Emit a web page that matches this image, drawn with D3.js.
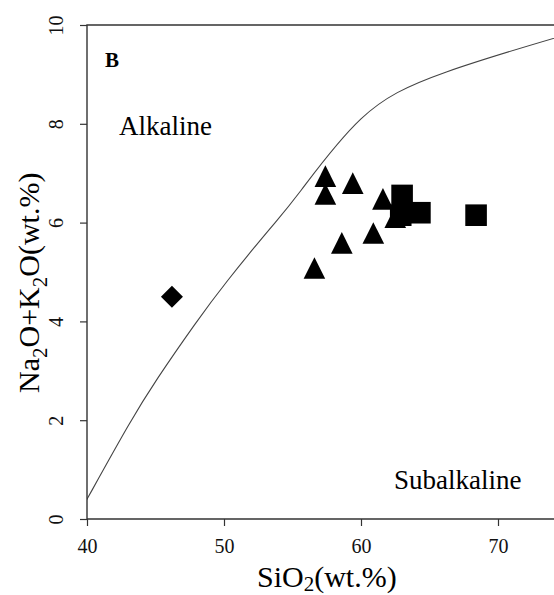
<!DOCTYPE html>
<html>
<head>
<meta charset="utf-8">
<script src="https://cdn.jsdelivr.net/npm/d3@7"></script>
<style>
body { margin: 0; background: #fff; }
svg, svg text { font-family: "Liberation Serif", "DejaVu Serif", "Times New Roman", serif; }
svg { display: block; }
</style>
</head>
<body>
<script>
var width = 554, height = 595;

// Irvine & Baragar alkaline / subalkaline boundary
var boundarySiO2 = [39.2, 40, 43.2, 45, 48, 50, 53.7, 55, 60, 65, 77.4];
var boundaryAlk  = [0, 0.4, 2, 2.8, 4, 4.75, 6, 6.4, 8.3, 9, 10];

// samples
var triSiO2 = [57.4, 57.4, 59.4, 61.6, 62.5, 60.9, 58.6, 56.6];
var triAlk  = [6.94, 6.58, 6.8, 6.48, 6.11, 5.79, 5.59, 5.08];
var sqSiO2  = [63.0, 62.9, 64.3, 68.4];
var sqAlk   = [6.55, 6.15, 6.2, 6.15];
var diaSiO2 = [46.2];
var diaAlk  = [4.5];

var xTicks = [40, 50, 60, 70];
var yTicks = [0, 2, 4, 6, 8, 10];

var serif = "'Liberation Serif', 'DejaVu Serif', serif";

var x = d3.scaleLinear().domain([40, 75]).range([87, 566.5]);
var y = d3.scaleLinear().domain([0, 10]).range([519, 25]);

var svg = d3.select("body").append("svg")
    .attr("width", width)
    .attr("height", height);

svg.append("defs").append("clipPath").attr("id", "plotclip")
  .append("rect")
    .attr("x", x(40)).attr("y", y(10))
    .attr("width", width - x(40)).attr("height", y(0) - y(10));

// boundary curve
var line = d3.line()
    .x(function(d) { return x(d[0]); })
    .y(function(d) { return y(d[1]); })
    .curve(d3.curveBasis);

svg.append("path")
    .datum(d3.zip(boundarySiO2, boundaryAlk))
    .attr("clip-path", "url(#plotclip)")
    .attr("d", line)
    .attr("fill", "none")
    .attr("stroke", "#444")
    .attr("stroke-width", 1.1);

// markers
var s = 10.8;
function triPath(d) {
  var cx = x(d[0]), cy = y(d[1]);
  return "M" + cx + "," + (cy - s) + "L" + (cx + s) + "," + (cy + s) + "L" + (cx - s) + "," + (cy + s) + "Z";
}
function sqPath(d) {
  var cx = x(d[0]), cy = y(d[1]);
  return "M" + (cx - s) + "," + (cy - s) + "h" + 2 * s + "v" + 2 * s + "h" + (-2 * s) + "Z";
}
function diaPath(d) {
  var cx = x(d[0]), cy = y(d[1]), r = 11;
  return "M" + cx + "," + (cy - r) + "L" + (cx + r) + "," + cy + "L" + cx + "," + (cy + r) + "L" + (cx - r) + "," + cy + "Z";
}

svg.append("g").selectAll("path")
    .data(d3.zip(diaSiO2, diaAlk)).enter().append("path")
    .attr("d", diaPath).attr("fill", "#000");
svg.append("g").selectAll("path")
    .data(d3.zip(triSiO2, triAlk)).enter().append("path")
    .attr("d", triPath).attr("fill", "#000");
svg.append("g").selectAll("path")
    .data(d3.zip(sqSiO2, sqAlk)).enter().append("path")
    .attr("d", sqPath).attr("fill", "#000");

// axes
var xAxis = svg.append("g")
    .attr("transform", "translate(0," + y(0) + ")")
    .call(d3.axisBottom(x).tickValues(xTicks).tickSize(7).tickSizeOuter(0));
xAxis.attr("font-family", serif).attr("font-size", 20);
xAxis.select(".domain").remove();
xAxis.selectAll("text")
    .attr("y", 34).attr("dy", 0)
    .attr("fill", "#111");

var yAxis = svg.append("g")
    .attr("transform", "translate(" + x(40) + ",0)")
    .call(d3.axisLeft(y).tickValues(yTicks).tickSize(7).tickSizeOuter(0));
yAxis.attr("font-family", serif).attr("font-size", 20);
yAxis.select(".domain").remove();
yAxis.selectAll("text")
    .attr("transform", "rotate(-90)")
    .attr("x", 0).attr("y", -24).attr("dy", 0)
    .attr("text-anchor", "middle")
    .attr("fill", "#111");

svg.selectAll(".tick line").attr("stroke", "#333").attr("stroke-width", 1.2);

// frame: left, bottom, top
svg.append("path")
    .attr("d", "M" + width + "," + y(10) + "H" + x(40) + "V" + y(0) + "H" + width)
    .attr("fill", "none")
    .attr("stroke", "#333")
    .attr("stroke-width", 1.4);

// labels
svg.append("text")
    .attr("x", 105).attr("y", 67)
    .attr("font-family", serif)
    .style("font-size", "21px").style("font-weight", "bold")
    .text("B");

svg.append("text")
    .attr("x", 119).attr("y", 135)
    .attr("font-family", serif)
    .style("font-size", "27px")
    .text("Alkaline");

svg.append("text")
    .attr("x", 394).attr("y", 489)
    .attr("font-family", serif)
    .style("font-size", "27px")
    .text("Subalkaline");

var xl = svg.append("text")
    .attr("x", 257).attr("y", 587)
    .attr("font-family", serif)
    .style("font-size", "30px");
xl.append("tspan").text("SiO");
xl.append("tspan").attr("dy", 4).style("font-size", "21px").text("2");
xl.append("tspan").attr("dy", -4).text("(wt.%)");

var yl = svg.append("text")
    .attr("transform", "translate(39,393) rotate(-90)")
    .attr("font-family", serif)
    .style("font-size", "30px");
yl.append("tspan").text("Na");
yl.append("tspan").attr("dy", 8).style("font-size", "21px").text("2");
yl.append("tspan").attr("dy", -8).text("O+K");
yl.append("tspan").attr("dy", 8).style("font-size", "21px").text("2");
yl.append("tspan").attr("dy", -8).text("O(wt.%)");
</script>
</body>
</html>
